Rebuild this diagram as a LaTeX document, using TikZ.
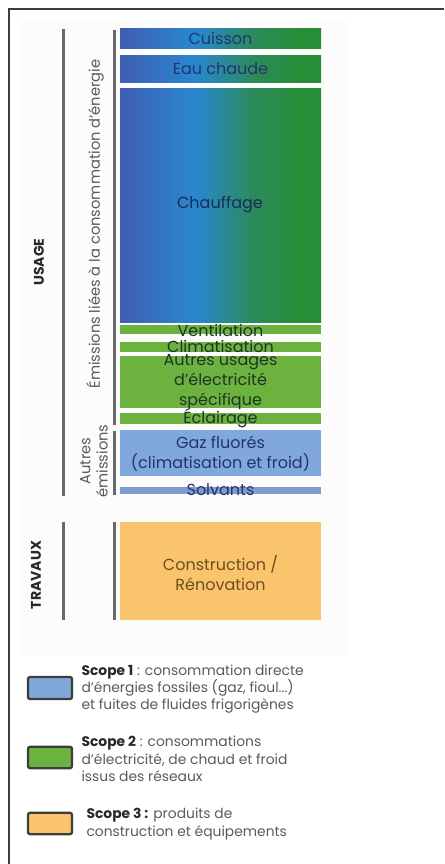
\documentclass[tikz,border=0pt]{standalone}
\usepackage{fontspec}
\setmainfont{Poppins}

\definecolor{bargray}{RGB}{105,105,105}
\definecolor{framegray}{RGB}{60,60,60}
\definecolor{panelgray}{RGB}{252,252,252}
\definecolor{scopeblue}{RGB}{128,168,220}
\definecolor{solvblue}{RGB}{126,156,206}
\definecolor{scopegreen}{RGB}{108,178,62}
\definecolor{scopeorange}{RGB}{249,196,108}
\definecolor{navytxt}{RGB}{34,52,110}
\definecolor{greentxt}{RGB}{30,52,40}
\definecolor{browntxt}{RGB}{110,78,30}
\definecolor{legtxt}{RGB}{90,90,90}
\definecolor{legdark}{RGB}{40,40,40}
\definecolor{heatA}{RGB}{64,94,180}
\definecolor{heatB}{RGB}{40,136,206}
\definecolor{heatC}{RGB}{44,138,92}
\definecolor{heatD}{RGB}{38,142,54}

% the box is mapped onto 25bp..75bp of the shading
\pgfdeclarehorizontalshading{heat}{100bp}{color(0bp)=(heatA); color(25bp)=(heatA); color(44bp)=(heatB); color(58bp)=(heatC); color(70bp)=(heatD); color(100bp)=(heatD)}

\tikzset{every picture/.style={line width=0.75pt}}

\begin{document}
\begin{tikzpicture}[x=0.75pt,y=0.75pt,yscale=-1,xscale=1,
  grpbar/.style={draw=bargray,line width=2.25pt},
  heatbox/.style={shading=heat},
  boxtext/.style={inner sep=0pt,align=center,text=navytxt,font=\fontsize{12}{15}\selectfont},
  grntext/.style={boxtext,text=greentxt},
  catlabel/.style={rotate=90,inner sep=0pt,font=\bfseries\fontsize{10.5}{12}\selectfont,text=legdark},
  sublabel/.style={rotate=90,inner sep=0pt,align=center,text=legtxt,font=\fontsize{11}{13}\selectfont},
  legbox/.style={draw=legdark!90,line width=1.7pt,rounded corners=1.5pt},
  legtext/.style={anchor=west,inner sep=0pt,align=left,text=legtxt,font=\fontsize{10.4}{13}\selectfont}]
\useasboundingbox (0,0) rectangle (444,864);

%Frame and panel
\fill[panelgray] (20,20) rectangle (348,655);
\draw[framegray,line width=1.2pt] (444,9) -- (9,9) -- (9,864);

%Group bars
\coordinate (usageTop) at (63,29);
\coordinate (usageBot) at (63,496);
\coordinate (energyTop) at (114,30);
\coordinate (energyBot) at (114,425);
\coordinate (otherTop) at (114,431);
\coordinate (otherBot) at (114,495);
\coordinate (worksTop) at (63,522);
\coordinate (worksBot) at (63,620);
\coordinate (buildTop) at (114,522);
\coordinate (buildBot) at (114,620);
\draw[grpbar] (usageTop) -- (usageBot);
\draw[grpbar] (energyTop) -- (energyBot);
\draw[grpbar] (otherTop) -- (otherBot);
\draw[grpbar] (worksTop) -- (worksBot);
\draw[grpbar] (buildTop) -- (buildBot);

%Shape: Rectangle (energy uses)
\shade[heatbox] (120,28) rectangle (321,48);
\shade[heatbox] (120,55) rectangle (321,82);
\shade[heatbox] (120,88) rectangle (321,322);
\fill[scopegreen] (120,325) rectangle (321,334);
\fill[scopegreen] (120,342) rectangle (321,352);
\fill[scopegreen] (120,356) rectangle (321,408);
\fill[scopegreen] (120,413) rectangle (321,424);
%Shape: Rectangle (other emissions)
\fill[scopeblue] (120,430) rectangle (321,476);
\fill[solvblue] (120,487) rectangle (321,494);
%Shape: Rectangle (works)
\fill[scopeorange] (120,522) rectangle (321,620);

% Text Node
\node[boxtext] (cuisson) at (220.5,38) {Cuisson};
\node[boxtext] (eauchaude) at (220.5,68.5) {Eau chaude};
\node[boxtext,text=navytxt!80!black] (chauffage) at (220,205) {Chauffage};
\node[grntext] (ventilation) at (220.5,330) {Ventilation};
\node[grntext] (climatisation) at (220.5,346) {Climatisation};
\node[grntext] (autres) at (220.5,382.5) {Autres usages\\d'électricité\\spécifique};
\node[grntext] (eclairage) at (220.5,418) {Éclairage};
\node[boxtext] (gaz) at (220.5,453.5) {Gaz fluorés\\(climatisation et froid)};
\node[boxtext] (solvants) at (220.5,490) {Solvants};
\node[boxtext,text=browntxt] (construction) at (220.5,573) {Construction /\\Rénovation};

% Group labels
\node[catlabel] (usage) at (39,262) {USAGE};
\node[catlabel] (travaux) at (36,575) {TRAVAUX};
\node[sublabel] (energie) at (95,224) {Émissions liées à la consommation d'énergie};
\node[sublabel] (autresem) at (94,461) {Autres\\émissions};

%Legend
\node[legbox,fill=scopeblue,minimum width=33pt,minimum height=16.5pt] (scope1) at (50,688) {};
\node[legbox,fill=scopegreen,minimum width=33pt,minimum height=16pt] (scope2) at (50,757.5) {};
\node[legbox,fill=scopeorange,minimum width=33pt,minimum height=16pt] (scope3) at (50,823.5) {};
\node[legtext] (scope1txt) at (81,689) {\textcolor{legdark}{\bfseries Scope 1} : consommation directe\\d'énergies fossiles (gaz, fioul...)\\et fuites de fluides frigorigènes};
\node[legtext] (scope2txt) at (81,759) {\textcolor{legdark}{\bfseries Scope 2} : consommations\\d'électricité, de chaud et froid\\issus des réseaux};
\node[legtext] (scope3txt) at (86,824) {\textcolor{legdark}{\bfseries Scope 3 :} produits de\\construction et équipements};

\end{tikzpicture}
\end{document}
